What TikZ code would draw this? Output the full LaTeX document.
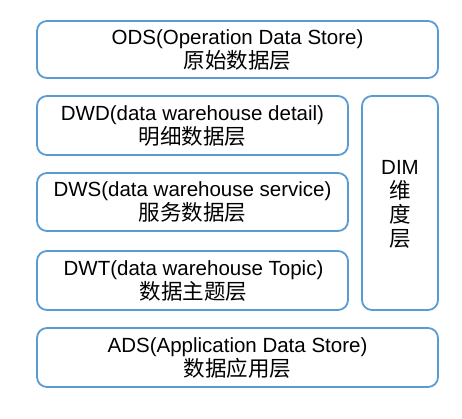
\documentclass[tikz,border=0pt]{standalone}
\usepackage{fontspec}
\setmainfont{Liberation Sans}
\newfontfamily\cjk[Scale=1.05]{Noto Sans CJK SC}
\definecolor{boxblue}{HTML}{5B9BD5}
\begin{document}
\begin{tikzpicture}[x=1pt,y=-1pt,
  layer/.style={draw=boxblue, line width=1.8pt, rounded corners=10pt, fill=white},
  lbl/.style={align=center, font=\fontsize{20.5}{24}\selectfont, inner sep=0pt}]
\useasboundingbox (0,0) rectangle (462,418);
\fill[white] (0,0) rectangle (462,418);
\draw[layer] (37,21) rectangle (438,78);
\draw[layer] (37,96) rectangle (348,155);
\draw[layer] (37,173) rectangle (348,231);
\draw[layer] (37,251) rectangle (348,310);
\draw[layer] (362,96) rectangle (438,310);
\draw[layer] (37,328) rectangle (438,387);
\node[lbl] (ods) at (237.5,50) {ODS(Operation Data Store)\\{\cjk 原始数据层}};
\node[lbl] (dwd) at (192.5,126) {DWD(data warehouse detail)\\{\cjk 明细数据层}};
\node[lbl] (dws) at (192.5,202.5) {DWS(data warehouse service)\\{\cjk 服务数据层}};
\node[lbl] (dwt) at (193.5,281) {DWT(data warehouse Topic)\\{\cjk 数据主题层}};
\node[lbl] (dim) at (400,204) {DIM\\{\cjk 维}\\{\cjk 度}\\{\cjk 层}};
\node[lbl] (ads) at (237.5,358) {ADS(Application Data Store)\\{\cjk 数据应用层}};
\end{tikzpicture}
\end{document}
